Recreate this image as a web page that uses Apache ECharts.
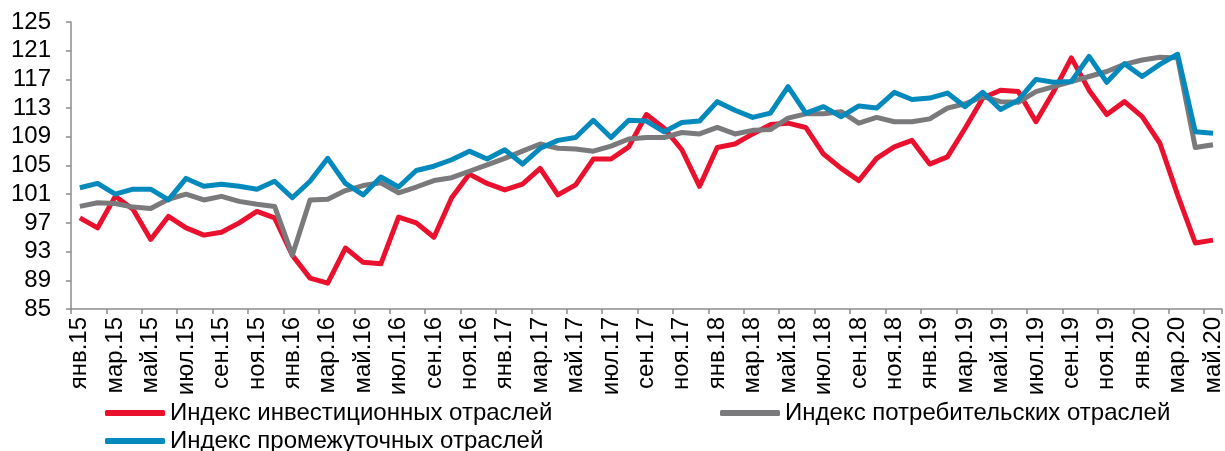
<!DOCTYPE html>
<html>
<head>
<meta charset="utf-8">
<script src="https://cdn.jsdelivr.net/npm/echarts@6/dist/echarts.min.js"></script>
<style>
  html, body { margin: 0; padding: 0; background: #fff; }
  #chart { width: 1225px; height: 451px; }
</style>
</head>
<body>
<div id="chart"></div>
<script>
// месяцы янв.15 - май.20
var monthNames = ["янв.", "фев.", "мар.", "апр.", "май.", "июн.", "июл.", "авг.", "сен.", "окт.", "ноя.", "дек."];
var years = ["15", "16", "17", "18", "19", "20"];
var categories = [];
for (var y = 0; y < years.length; y++) {
	for (var m = 0; m < 12; m++) {
		if (y == 5 && m > 4) break;
		categories.push(monthNames[m] + years[y]);
	}
}

var seriesNames = ["Индекс инвестиционных отраслей", "Индекс потребительских отраслей", "Индекс промежуточных отраслей"];

// Индекс инвестиционных отраслей
var investData = [
	97.7, 96.3, 100.7, 98.9, 94.7, 97.9, 96.3, 95.3, 95.7, 97.0, 98.6, 97.7,
	92.5, 89.3, 88.6, 93.5, 91.5, 91.3, 97.8, 97.0, 95.0, 100.5, 103.8, 102.5,
	101.6, 102.4, 104.6, 100.9, 102.3, 105.9, 105.9, 107.6, 112.1, 110.2, 107.2, 102.1,
	107.5, 108.0, 109.4, 110.7, 110.9, 110.3, 106.6, 104.6, 102.9, 106.0, 107.6, 108.5,
	105.2, 106.2, 110.2, 114.4, 115.5, 115.3, 111.1, 115.3, 120.0, 115.5, 112.1, 113.9,
	111.8, 108.1, 100.9, 94.2, 94.6
];

// Индекс потребительских отраслей
var consumerData = [
	99.3, 99.8, 99.7, 99.2, 99.0, 100.3, 101.0, 100.2, 100.7, 100.0, 99.6, 99.3,
	92.5, 100.2, 100.3, 101.5, 102.2, 102.6, 101.2, 102.0, 102.9, 103.3, 104.2, 105.1,
	106.0, 107.0, 108.0, 107.4, 107.3, 107.0, 107.7, 108.7, 108.9, 108.9, 109.6, 109.4,
	110.3, 109.4, 109.9, 110.0, 111.6, 112.2, 112.2, 112.5, 110.9, 111.7, 111.1, 111.1,
	111.5, 113.0, 113.6, 114.6, 113.9, 113.8, 115.3, 116.0, 116.7, 117.4, 118.1, 119.1,
	119.7, 120.1, 120.0, 107.5, 107.9
];

// Индекс промежуточных отраслей
var intermData = [
	101.9, 102.5, 101.0, 101.7, 101.7, 100.2, 103.2, 102.1, 102.4, 102.1, 101.7, 102.8,
	100.5, 102.8, 106.0, 102.5, 100.9, 103.4, 102.0, 104.3, 104.9, 105.8, 107.0, 105.9,
	107.2, 105.2, 107.4, 108.5, 108.9, 111.3, 108.9, 111.3, 111.2, 109.7, 111.0, 111.2,
	113.9, 112.7, 111.7, 112.3, 116.0, 112.3, 113.2, 111.8, 113.3, 113.0, 115.2, 114.2,
	114.4, 115.1, 113.2, 115.2, 112.8, 114.1, 117.0, 116.6, 116.7, 120.2, 116.6, 119.2,
	117.4, 119.1, 120.5, 109.7, 109.5
];

var colors = ["#E9112E", "#7A7A7D", "#0489BD"];
var yMin = 85, yMax = 125, yStep = 4;

var chart = echarts.init(document.getElementById("chart"), null, { renderer: "canvas" });

function makeLegend(idx, left, top) {
	return {
		data: [seriesNames[idx]],
		left: left,
		top: top,
		icon: "roundRect",
		itemWidth: 60,
		itemHeight: 6,
		padding: 0,
		selectedMode: false,
		textStyle: { fontFamily: "Liberation Sans, Arial", fontSize: 24, color: "#000" }
	};
}

function makeSeries(idx, data) {
	return {
		name: seriesNames[idx],
		type: "line",
		data: data,
		symbol: "none",
		smooth: false,
		itemStyle: { color: colors[idx] },
		lineStyle: { color: colors[idx], width: 5, join: "round" },
		emphasis: { disabled: true }
	};
}

var option = {
	animation: false,
	backgroundColor: "#fff",
	grid: { left: 71, right: 3, top: 22, bottom: 142, containLabel: false },
	legend: [
		makeLegend(0, 105, 401),
		makeLegend(1, 720, 401),
		makeLegend(2, 105, 429)
	],
	xAxis: {
		type: "category",
		data: categories,
		boundaryGap: true,
		axisLine: { lineStyle: { color: "#8C8C8C", width: 1.5 } },
		axisTick: { show: true, interval: 1, length: 5, lineStyle: { color: "#8C8C8C", width: 1.5 } },
		axisLabel: {
			interval: 1,
			rotate: 90,
			margin: 8,
			color: "#000",
			fontFamily: "Liberation Sans, Arial",
			fontSize: 24
		},
		splitLine: { show: false }
	},
	yAxis: {
		type: "value",
		min: yMin,
		max: yMax,
		interval: yStep,
		axisLine: { show: true, lineStyle: { color: "#8C8C8C", width: 1.5 } },
		axisTick: { show: true, length: 5, lineStyle: { color: "#8C8C8C", width: 1.5 } },
		axisLabel: {
			margin: 20,
			color: "#000",
			fontFamily: "Liberation Sans, Arial",
			fontSize: 24
		},
		splitLine: { show: false }
	},
	series: [
		makeSeries(0, investData),
		makeSeries(1, consumerData),
		makeSeries(2, intermData)
	]
};

chart.setOption(option);
</script>
</body>
</html>
